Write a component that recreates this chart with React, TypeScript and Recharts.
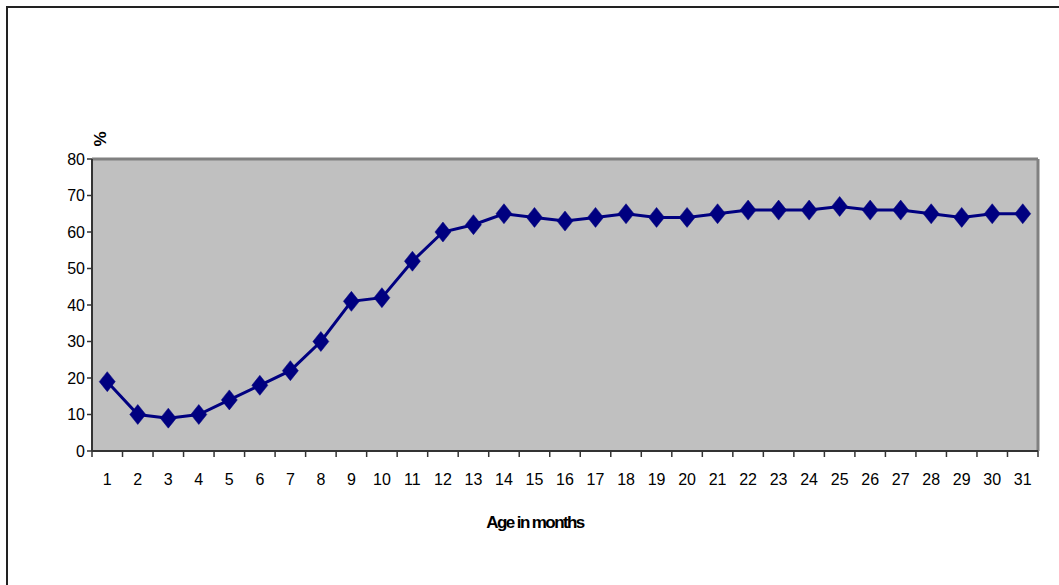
import { CartesianGrid, Label, Line, LineChart, ReferenceLine, XAxis, YAxis } from "recharts";

const months = [1, 2, 3, 4, 5, 6, 7, 8, 9, 10, 11, 12, 13, 14, 15, 16, 17, 18, 19, 20, 21, 22, 23, 24, 25, 26, 27, 28, 29, 30, 31];
const percent = [19, 10, 9, 10, 14, 18, 22, 30, 41, 42, 52, 60, 62, 65, 64, 63, 64, 65, 64, 64, 65, 66, 66, 66, 67, 66, 66, 65, 64, 65, 65];
const yTicks = [0, 10, 20, 30, 40, 50, 60, 70, 80];

const data = months.map((month, i) => ({ month, value: percent[i] }));

const WIDTH = 1059;
const HEIGHT = 585;
const MARGIN = { top: 159, right: 21, bottom: 74, left: 0 };
const Y_AXIS_WIDTH = 92;
const BAND = (WIDTH - MARGIN.left - MARGIN.right - Y_AXIS_WIDTH) / months.length;
const FONT = '"Liberation Sans", Arial, sans-serif';
const NAVY = "#000080";
const AXIS = "#333333";

// month label centred in its slot, with tick marks on the slot boundaries
function MonthTick(props: any) {
  const { x, y, payload, index } = props;
  const last = index === months.length - 1;
  return (
    <g>
      <line x1={x - BAND / 2} x2={x - BAND / 2} y1={y} y2={y + 6} stroke={AXIS} strokeWidth={1.5} />
      {last && <line x1={x + BAND / 2} x2={x + BAND / 2} y1={y} y2={y + 6} stroke={AXIS} strokeWidth={1.5} />}
      <text x={x} y={y + 34} textAnchor="middle" fontSize={16} fill="#000" fontFamily={FONT}>
        {payload.value}
      </text>
    </g>
  );
}

function Diamond(props: any) {
  const { cx, cy } = props;
  if (cx == null || cy == null) return null;
  const pts = `${cx},${cy - 10} ${cx + 8},${cy} ${cx},${cy + 10} ${cx - 8},${cy}`;
  return <polygon points={pts} fill={NAVY} stroke={NAVY} strokeWidth={0.5} />;
}

export default function App() {
  return (
    <div style={{ position: "absolute", left: 0, top: 0, width: WIDTH, height: HEIGHT, overflow: "hidden", background: "#fff" }}>
      <div
        style={{
          position: "absolute",
          left: 6,
          top: 6,
          width: 1060,
          height: 620,
          border: "2px solid #222",
          boxSizing: "border-box",
        }}
      />
      <div style={{ position: "absolute", left: 0, top: 0 }}>
        <LineChart width={WIDTH} height={HEIGHT} data={data} margin={MARGIN} style={{ fontFamily: FONT }}>
          <CartesianGrid fill="#c0c0c0" horizontal={false} vertical={false} />
          <XAxis
            dataKey="month"
            type="number"
            domain={[0.5, 31.5]}
            ticks={months}
            interval={0}
            height={60}
            tickSize={0}
            tickMargin={0}
            tickLine={false}
            axisLine={{ stroke: AXIS, strokeWidth: 2 }}
            tick={<MonthTick />}
          >
            <Label
              content={() => (
                <text x={535} y={528} textAnchor="middle" fontSize={17} fontWeight="bold" letterSpacing={-1.6} fontFamily={FONT} fill="#000">
                  Age in months
                </text>
              )}
            />
          </XAxis>
          <YAxis
            domain={[0, 80]}
            ticks={yTicks}
            interval={0}
            width={Y_AXIS_WIDTH}
            tickSize={5}
            tick={{ fill: "#000", fontSize: 16, fontFamily: FONT }}
            tickLine={{ stroke: AXIS, strokeWidth: 1.5 }}
            axisLine={{ stroke: AXIS, strokeWidth: 2 }}
          >
            <Label
              content={(p: any) => {
                const vb = p.viewBox;
                const x = vb.x + vb.width + 8;
                const y = vb.y - 20;
                return (
                  <text x={x} y={y} transform={`rotate(-90 ${x} ${y})`} textAnchor="middle" dominantBaseline="central" fontSize={17} fontWeight="bold" fontFamily={FONT} fill="#000">
                    %
                  </text>
                );
              }}
            />
          </YAxis>
          <ReferenceLine y={80} stroke="#808080" strokeWidth={3} />
          <ReferenceLine x={31.5} stroke="#808080" strokeWidth={3} />
          <Line
            dataKey="value"
            stroke={NAVY}
            strokeWidth={3}
            dot={<Diamond />}
            activeDot={false}
            isAnimationActive={false}
          />
        </LineChart>
      </div>
    </div>
  );
}
